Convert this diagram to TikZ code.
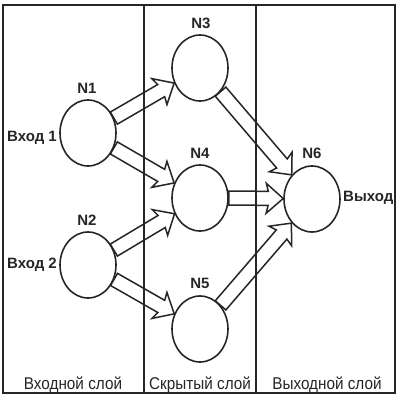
\documentclass[tikz,border=0pt]{standalone}
\usepackage{fontspec}
\setmainfont{Liberation Sans}
\newfontfamily\narrowfont[FakeStretch=0.9]{Liberation Sans}
\usetikzlibrary{calc,shapes.geometric}
\definecolor{ink}{HTML}{262626}
\tikzset{
  neuron/.style={ellipse, draw=ink, line width=1.6pt, minimum width=56pt, minimum height=66pt, inner sep=0pt},
  nlabel/.style={font=\bfseries\fontsize{15}{17}\selectfont, text=ink, inner sep=0pt},
  layerlabel/.style={font=\narrowfont\fontsize{17}{19}\selectfont, text=ink, inner sep=0pt, anchor=base},
  frameline/.style={draw=ink, line width=2pt},
  barrow/.style={draw=ink, fill=white, line width=1.5pt, line join=miter},
}
\newcommand\blockarrow[2]{%
  \draw[barrow] let \p1=($(#2.center)-(#1.center)$), \n1={atan2(\y1,\x1)}, \n2={\n1+180},
      \p2=(#1.\n1), \p3=(#2.\n2), \p4=($(\p3)-(\p2)$), \n3={veclen(\x4,\y4)} in
    ([shift={(\p2)},rotate=\n1]0pt,-7pt) --
    ([shift={(\p2)},rotate=\n1]{\n3-15pt},-7pt) --
    ([shift={(\p2)},rotate=\n1]{\n3-17pt},-15pt) --
    ([shift={(\p2)},rotate=\n1]{\n3},0pt) --
    ([shift={(\p2)},rotate=\n1]{\n3-17pt},15pt) --
    ([shift={(\p2)},rotate=\n1]{\n3-15pt},7pt) --
    ([shift={(\p2)},rotate=\n1]0pt,7pt) -- cycle;
}
\begin{document}
\begin{tikzpicture}[x=1pt,y=-1pt]
\useasboundingbox (0,0) rectangle (400,400);
\fill[white] (0,0) rectangle (400,400);
% neurons
\node[neuron] (N1) at (88,133) {};
\node[neuron] (N2) at (88,265) {};
\node[neuron] (N3) at (200,68) {};
\node[neuron] (N4) at (200,198) {};
\node[neuron] (N5) at (200,329) {};
\node[neuron] (N6) at (312,199) {};
% labels
\node[nlabel, anchor=base] (L1) at (87,93) {N1};
\node[nlabel, anchor=base] (L2) at (87,225) {N2};
\node[nlabel, anchor=base] (L3) at (201,28) {N3};
\node[nlabel, anchor=base] (L4) at (200,158) {N4};
\node[nlabel, anchor=base] (L5) at (200,288) {N5};
\node[nlabel, anchor=base] (L6) at (312,158) {N6};
\node[nlabel, anchor=base east] (in1) at (57,141.5) {Вход 1};
\node[nlabel, anchor=base east] (in2) at (57,268.5) {Вход 2};
\node[nlabel, anchor=base west] (out) at (343,201.5) {Выход};
% arrows
\blockarrow{N1}{N3}
\blockarrow{N1}{N4}
\blockarrow{N2}{N4}
\blockarrow{N2}{N5}
\blockarrow{N3}{N6}
\blockarrow{N4}{N6}
\blockarrow{N5}{N6}
% frame and layer dividers
\draw[frameline] (3,5) rectangle (395,393);
\draw[frameline] (144,5) -- (144,393);
\draw[frameline] (256,5) -- (256,393);
% layer names
\node[layerlabel] (lay1) at (73,389) {Входной слой};
\node[layerlabel] (lay2) at (200,389) {Скрытый слой};
\node[layerlabel] (lay3) at (327,389) {Выходной слой};
\end{tikzpicture}
\end{document}
